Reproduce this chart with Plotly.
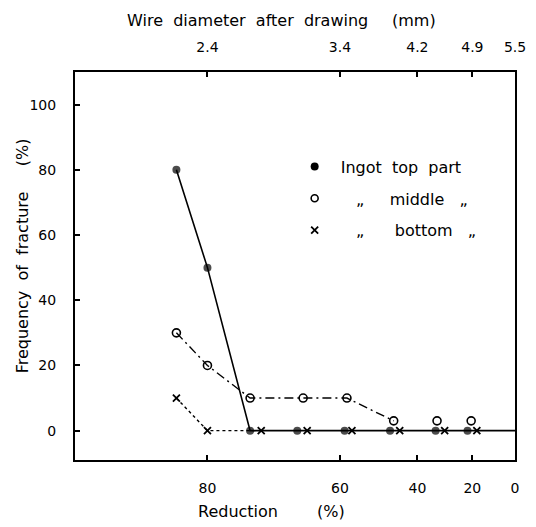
import plotly.graph_objects as go

# ---- data ----
reduction_ticks = [80, 60, 40, 20, 0]
reduction_tick_labels = ["80", "60", "40", "20", "0"]
diameter_tick_labels = ["2.4", "3.4", "4.2", "4.9", "5.5"]
freq_ticks = [0, 20, 40, 60, 80, 100]

top_reduction = [83, 80, 75, 68, 59, 48, 34, 22, 0]
top_freq = [80, 50, 0, 0, 0, 0, 0, 0, 0]

middle_reduction = [83, 80, 75, 67, 58.5, 47, 33.5, 20.5]
middle_freq = [30, 20, 10, 10, 10, 3, 3, 3]

bottom_reduction = [83, 80, 73.5, 66.3, 57.4, 45.3, 30.8, 18.1]
bottom_freq = [10, 0, 0, 0, 0, 0, 0, 0]

NB = "\u00a0"
DITTO = "\u201e"
legend_names = ["Ingot" + NB * 2 + "top" + NB * 2 + "part",
                NB * 3 + DITTO + NB * 5 + "middle" + NB * 3 + DITTO,
                NB * 3 + DITTO + NB * 6 + "bottom" + NB * 3 + DITTO]


def to_axis(red):
    # axis is logarithmic in remaining cross-section (100 - reduction)
    return [100 - r for r in red]


FONT = "DejaVu Sans"
fig = go.Figure()

# top part: solid line, filled dots (last point only extends the line)
fig.add_trace(go.Scatter(
    x=to_axis(top_reduction), y=top_freq, mode="lines+markers",
    line=dict(color="black", width=1.6),
    marker=dict(symbol="circle", color="black",
                size=[8] * (len(top_reduction) - 1) + [0],
                line=dict(width=0)),
    showlegend=False))

# middle: dash-dot line with open circles
n_mid_line = 6
fig.add_trace(go.Scatter(
    x=to_axis(middle_reduction[:n_mid_line]), y=middle_freq[:n_mid_line], mode="lines",
    line=dict(color="black", width=1.4, dash="9px,4px,2px,4px"),
    showlegend=False))
fig.add_trace(go.Scatter(
    x=to_axis(middle_reduction), y=middle_freq, mode="markers",
    marker=dict(symbol="circle-open", color="black", size=8, line=dict(width=1.6)),
    showlegend=False))

# bottom: dotted line with x marks
fig.add_trace(go.Scatter(
    x=to_axis(bottom_reduction[:3]), y=bottom_freq[:3], mode="lines",
    line=dict(color="black", width=1.4, dash="3px,3px"),
    showlegend=False))
fig.add_trace(go.Scatter(
    x=to_axis(bottom_reduction), y=bottom_freq, mode="markers",
    marker=dict(symbol="x-thin", color="black", size=7, line=dict(width=1.8, color="black")),
    showlegend=False))

# legend entries (markers only)
legend_markers = [
    dict(symbol="circle", color="black", size=8),
    dict(symbol="circle-open", color="black", size=7, line=dict(width=1.6)),
    dict(symbol="x-thin", color="black", size=7, line=dict(width=1.8, color="black")),
]
for i, (nm, mk) in enumerate(zip(legend_names, legend_markers)):
    fig.add_trace(go.Scatter(x=[None], y=[None], mode="markers", name=nm,
                             marker=mk, legendgroup=f"g{i}", showlegend=True))

tickvals = to_axis(reduction_ticks)

fig.update_layout(
    width=536, height=527,
    margin=dict(l=75, r=10, t=72, b=67),
    paper_bgcolor="white", plot_bgcolor="white",
    font=dict(family=FONT, size=14, color="black"),
    xaxis=dict(type="log", range=[1, 2], tickvals=tickvals, ticktext=reduction_tick_labels,
               ticks="inside", ticklen=5, tickwidth=1.5, tickcolor="black",
               showline=True, linecolor="black", linewidth=2, mirror=False,
               showgrid=False, zeroline=False, ticklabelstandoff=14,
               tickfont=dict(size=14)),
    xaxis2=dict(type="log", range=[1, 2], tickvals=tickvals, ticktext=diameter_tick_labels,
                overlaying="x", side="top", anchor="y",
                ticks="inside", ticklen=5, tickwidth=1.5, tickcolor="black",
                showline=True, linecolor="black", linewidth=2,
                showgrid=False, zeroline=False, ticklabelstandoff=12,
                tickfont=dict(size=14)),
    yaxis=dict(range=[-9, 110], tickvals=freq_ticks,
               ticks="inside", ticklen=5, tickwidth=1.5, tickcolor="black",
               showline=True, linecolor="black", linewidth=2, mirror=True,
               showgrid=False, zeroline=False, ticklabelstandoff=14,
               tickfont=dict(size=14)),
    legend=dict(x=(294 - 75) / 451, y=0.80, xanchor="left", yanchor="top",
                bgcolor="rgba(0,0,0,0)", traceorder="grouped", tracegroupgap=8,
                font=dict(family=FONT, size=16), itemwidth=42),
    annotations=[
        dict(text="Wire" + NB * 2 + "diameter" + NB * 2 + "after" + NB * 2 + "drawing",
             xref="paper", yref="paper",
             x=(126 - 75) / 451, y=1 + (72 - 20) / 388, xanchor="left", yanchor="middle",
             showarrow=False, font=dict(size=16)),
        dict(text="(mm)", xref="paper", yref="paper",
             x=(398 - 75) / 451, y=1 + (72 - 20) / 388, xanchor="left", yanchor="middle",
             showarrow=False, font=dict(size=16)),
        dict(text="Reduction", xref="paper", yref="paper",
             x=(199 - 75) / 451, y=-(511 - 460) / 388, xanchor="left", yanchor="middle",
             showarrow=False, font=dict(size=16)),
        dict(text="(%)", xref="paper", yref="paper",
             x=(321 - 75) / 451, y=-(511 - 460) / 388, xanchor="left", yanchor="middle",
             showarrow=False, font=dict(size=16)),
        dict(text="Frequency" + NB * 2 + "of" + NB * 2 + "fracture", xref="paper", yref="paper",
             textangle=-90,
             x=-(75 - 21) / 451, y=(460 - 282) / 388, xanchor="center", yanchor="middle",
             showarrow=False, font=dict(size=16)),
        dict(text="(%)", xref="paper", yref="paper", textangle=-90,
             x=-(75 - 21) / 451, y=(460 - 152) / 388, xanchor="center", yanchor="middle",
             showarrow=False, font=dict(size=16)),
    ],
)

# make the top axis render by attaching a hidden trace
fig.add_trace(go.Scatter(x=[None], y=[None], xaxis="x2", showlegend=False))

fig.write_html("out.html")
